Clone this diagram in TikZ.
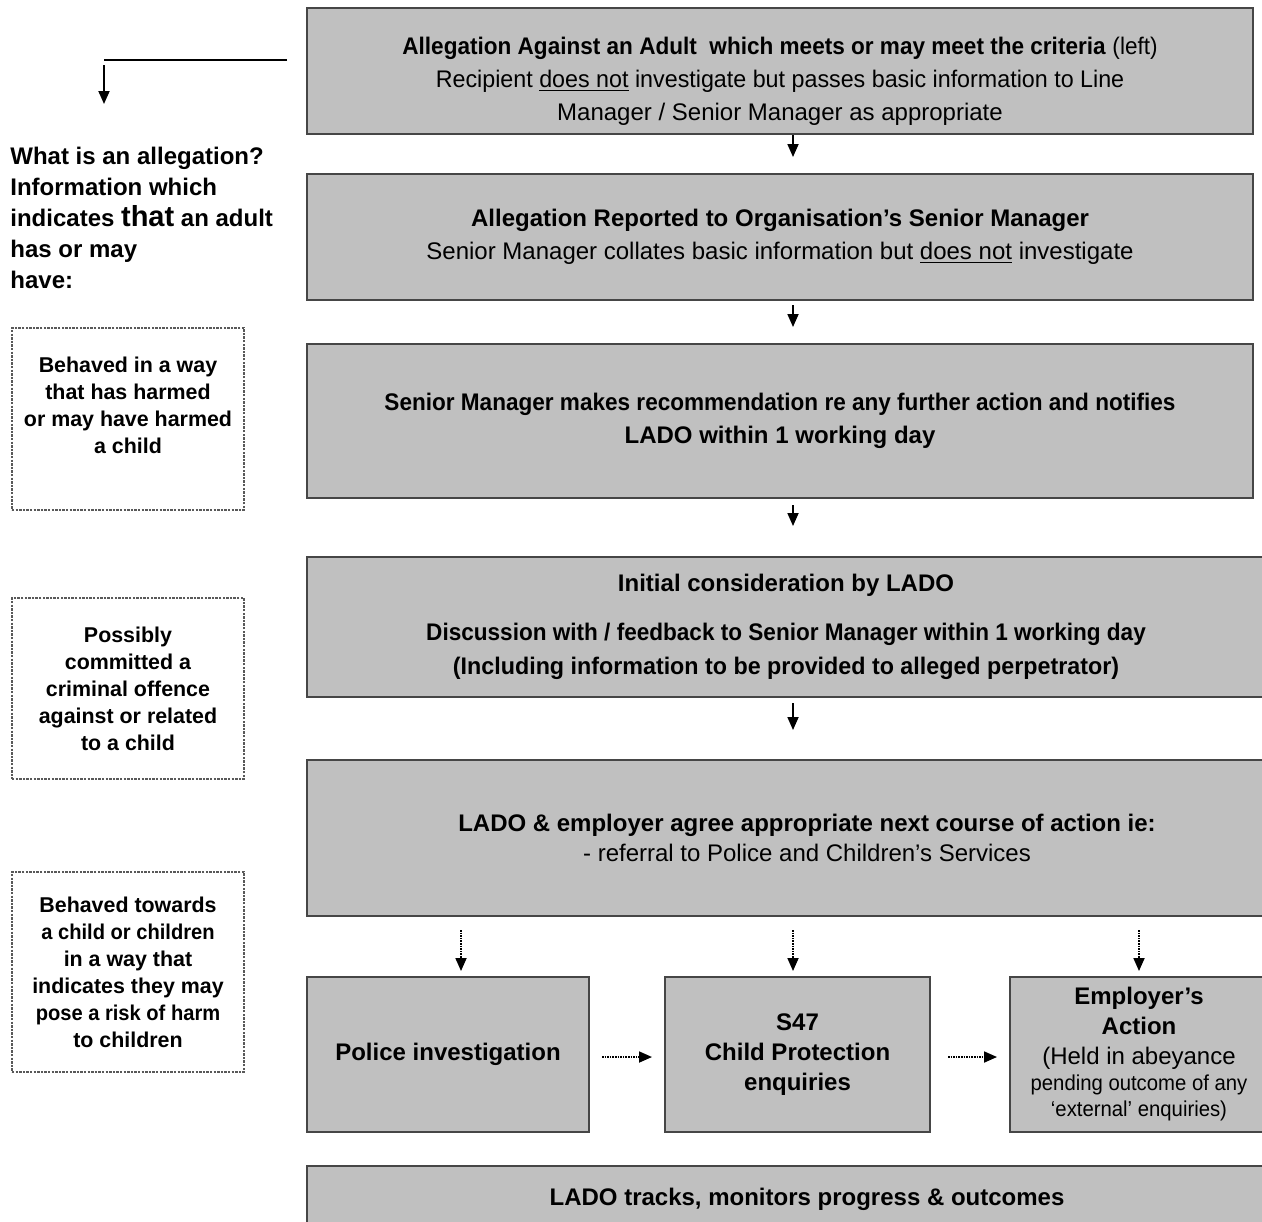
\documentclass[tikz,border=0pt]{standalone}
\usepackage{fontspec}
\setmainfont{Liberation Sans}
\newfontfamily\narrowfont[FakeStretch=0.88]{Liberation Sans}
\newfontfamily\slimfont[FakeStretch=0.94]{Liberation Sans}
\newfontfamily\tightfont[FakeStretch=0.97]{Liberation Sans}
\usetikzlibrary{arrows.meta}
\definecolor{boxgray}{RGB}{192,192,192}
\definecolor{edgegray}{RGB}{70,70,70}
\tikzset{
  stepbox/.style={draw=edgegray,fill=boxgray,line width=1pt,align=center,inner sep=0pt,
    font=\fontsize{12}{16.5}\selectfont},
  notebox/.style={draw=black!65,dash pattern=on 1.2pt off 0.6pt,line width=0.6pt,align=center,
    inner sep=0pt,minimum width=116pt,font=\bfseries\fontsize{10.7}{13.5}\selectfont},
  arr/.style={-{Triangle[length=6.5pt,width=5.5pt]},line width=0.9pt},
  dotarr/.style={arr,dash pattern=on 0.8pt off 0.5pt}
}
\begin{document}
\begin{tikzpicture}[x=0.5pt,y=-0.5pt]
  \useasboundingbox (0,0) rectangle (1262,1221);
  % main column
  \node[stepbox,minimum width=473pt,minimum height=63pt] (b1) at (780,71)
    {\rule{0pt}{19pt}\textbf{\slimfont Allegation Against an Adult\ \ which meets or may meet the criteria} {\slimfont(left)}\\
     {\tightfont Recipient \underline{does not} investigate but passes basic information to Line}\\
     Manager / Senior Manager as appropriate};
  \node[stepbox,minimum width=473pt,minimum height=63pt] (b2) at (780,237)
    {\textbf{Allegation Reported to Organisation’s Senior Manager}\\
     Senior Manager collates basic information but \underline{does not} investigate};
  \node[stepbox,minimum width=473pt,minimum height=77pt] (b3) at (780,421)
    {\textbf{\slimfont Senior Manager makes recommendation re any further action and notifies}\\
     \textbf{LADO within 1 working day}};
  \node[stepbox,minimum width=479pt,minimum height=70pt,font=\bfseries\fontsize{12}{17}\selectfont] (b4) at (786,627)
    {Initial consideration by LADO\\[7.5pt]
     {\slimfont Discussion with / feedback to Senior Manager within 1 working day}\\
     {\tightfont (Including information to be provided to alleged perpetrator)}};
  \node[stepbox,minimum width=500pt,minimum height=78pt,font=\fontsize{12}{15}\selectfont] (b5) at (807,838)
    {\textbf{LADO \& employer agree appropriate next course of action ie:}\\
     - referral to Police and Children’s Services};
  % outcome boxes
  \node[stepbox,minimum width=141pt,minimum height=77.5pt] (pol) at (448,1054.5)
    {\textbf{Police investigation}};
  \node[stepbox,minimum width=132.5pt,minimum height=77.5pt,font=\bfseries\fontsize{12}{15}\selectfont] (s47) at (797.5,1054.5)
    {S47\\ Child Protection\\ enquiries};
  \node[stepbox,minimum width=129pt,minimum height=77.5pt,font=\fontsize{12}{15}\selectfont] (emp) at (1139,1054.5)
    {\textbf{Employer’s}\\ \textbf{Action}\\ (Held in abeyance\\[-2pt]
     {\slimfont\fontsize{10.8}{13}\selectfont pending outcome of any}\\[-2pt]
     {\slimfont\fontsize{10.8}{13}\selectfont ‘external’ enquiries)}};
  \node[stepbox,minimum width=500pt,minimum height=33pt] (lado) at (807,1199)
    {\textbf{LADO tracks, monitors progress \& outcomes}};
  % left column
  \node[anchor=north west,align=left,inner sep=0pt,font=\bfseries\fontsize{12}{15.5}\selectfont] (what) at (10,147)
    {What is an allegation?\\ Information which\\
     indicates {\fontsize{14.5}{15.5}\selectfont that} an adult\\ has or may\\ have:};
  \node[notebox,minimum height=91pt] (crit1) at (128,419)
    {Behaved in a way\\ that has harmed\\ or may have harmed\\ a child\rule[-14pt]{0pt}{1pt}};
  \node[notebox,minimum height=90.5pt] (crit2) at (128,688.5)
    {Possibly\\ committed a\\ criminal offence\\ against or related\\ to a child};
  \node[notebox,minimum height=100pt] (crit3) at (128,972)
    {Behaved towards\\ {\slimfont a child or children}\\ in a way that\\ indicates they may\\
     {\slimfont pose a risk of harm}\\ to children};
  % pointer to the criteria
  \coordinate (lineR) at (287,60);
  \coordinate (lineL) at (104,60);
  \coordinate (tipL) at (104,104);
  \draw[line width=1.4pt] (lineR) -- (lineL);
  \draw[arr] ([yshift=-2.5pt]lineL) -- (tipL);
  % flow arrows
  \draw[arr,shorten <=0pt,shorten >=8pt] ([xshift=6.5pt]b1.south) -- ([xshift=6.5pt]b2.north);
  \draw[arr,shorten <=2pt,shorten >=8pt] ([xshift=6.5pt]b2.south) -- ([xshift=6.5pt]b3.north);
  \draw[arr,shorten <=3pt,shorten >=15pt] ([xshift=6.5pt]b3.south) -- ([xshift=3.5pt]b4.north);
  \draw[arr,shorten <=2.5pt,shorten >=14.5pt] ([xshift=3.5pt]b4.south) -- ([xshift=-7pt]b5.north);
  \draw[dotarr,shorten <=6.5pt,shorten >=2.5pt] ([xshift=-173pt]b5.south) -- ([xshift=6.5pt]pol.north);
  \draw[dotarr,shorten <=6.5pt,shorten >=2.5pt] ([xshift=-7pt]b5.south) -- ([xshift=-2.25pt]s47.north);
  \draw[dotarr,shorten <=6.5pt,shorten >=2.5pt] ([xshift=166pt]b5.south) -- (emp.north);
  \draw[dotarr,shorten <=6pt,shorten >=6pt] ([yshift=-1.25pt]pol.east) -- ([yshift=-1.25pt]s47.west);
  \draw[dotarr,shorten <=8.5pt,shorten >=6pt] ([yshift=-1.25pt]s47.east) -- ([yshift=-1.25pt]emp.west);
\end{tikzpicture}
\end{document}
